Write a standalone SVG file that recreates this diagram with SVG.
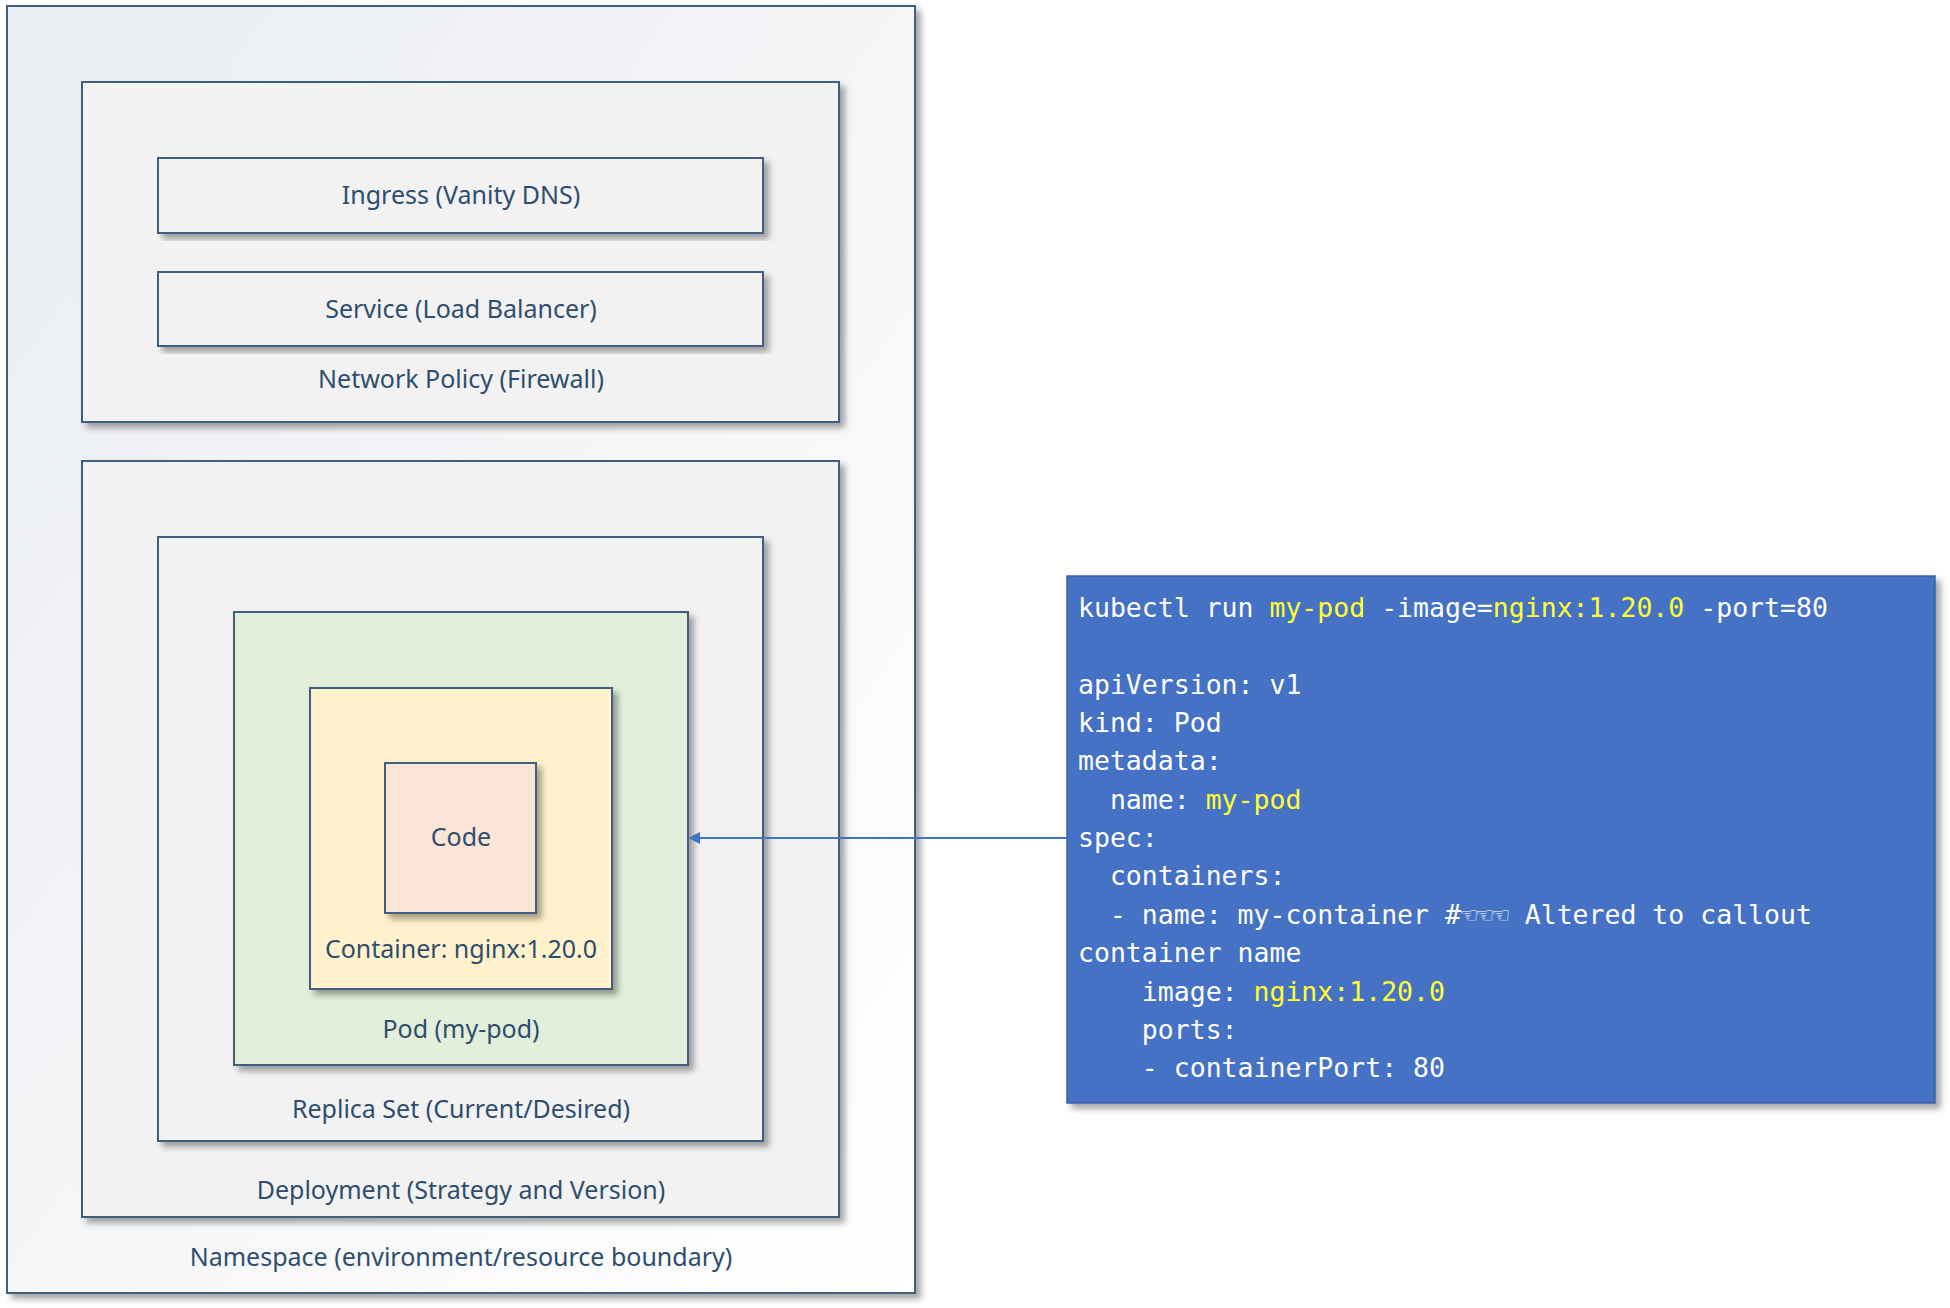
<svg xmlns="http://www.w3.org/2000/svg" width="1950" height="1308" viewBox="0 0 1950 1308">
<defs>
<linearGradient id="ns" x1="0" y1="0" x2="1" y2="1"><stop offset="0" stop-color="#e9ecf0"/><stop offset="1" stop-color="#ffffff"/></linearGradient>
<filter id="sh" x="-5%" y="-5%" width="115%" height="115%"><feDropShadow dx="5" dy="5" stdDeviation="3" flood-color="#000" flood-opacity="0.35"/></filter>
<marker id="ah" markerWidth="12" markerHeight="12" refX="10" refY="6" orient="auto" markerUnits="userSpaceOnUse"><path d="M0,0 L12,6 L0,12 Z" fill="#4472C4"/></marker>
<style>
.b{stroke:#3f5f80;stroke-width:2;filter:url(#sh)}
.g{fill:#f2f2f2}
.t{font-family:"Noto Sans","Open Sans",sans-serif;font-size:25px;fill:#2f4e6e;text-anchor:middle}
.m{font-family:"DejaVu Sans Mono","Liberation Mono",monospace;font-size:26.5px;fill:#ffffff}
.y{fill:#ffff33}
</style>
</defs>
<g id="namespace"><rect class="b" x="7" y="6" width="908" height="1287" fill="url(#ns)"/><text class="t" x="461" y="1266">Namespace (environment/resource boundary)</text></g>
<g id="networkpolicy"><rect class="b g" x="82" y="82" width="757" height="340"/><text class="t" x="461" y="388">Network Policy (Firewall)</text></g>
<g id="ingress"><rect class="b g" x="158" y="158" width="605" height="75"/><text class="t" x="461" y="204">Ingress (Vanity DNS)</text></g>
<g id="service"><rect class="b g" x="158" y="272" width="605" height="74"/><text class="t" x="461" y="318">Service (Load Balancer)</text></g>
<g id="deployment"><rect class="b g" x="82" y="461" width="757" height="756"/><text class="t" x="461" y="1199">Deployment (Strategy and Version)</text></g>
<g id="replicaset"><rect class="b g" x="158" y="537" width="605" height="604"/><text class="t" x="461" y="1118">Replica Set (Current/Desired)</text></g>
<g id="pod"><rect class="b" x="234" y="612" width="454" height="453" fill="#e2efda"/><text class="t" x="461" y="1038">Pod (my-pod)</text></g>
<g id="container"><rect class="b" x="310" y="688" width="302" height="301" fill="#fff2cc"/><text class="t" x="461" y="958">Container: nginx:1.20.0</text></g>
<g id="code"><rect class="b" x="385" y="763" width="151" height="150" fill="#fbe5d6"/><text class="t" x="461" y="846">Code</text></g>
<g id="yaml"><rect x="1067" y="576" width="868" height="527" fill="#4472C4" stroke="#3a62a8" stroke-width="1.5" filter="url(#sh)"/>
<text class="m" xml:space="preserve">
<tspan x="1078" y="617">kubectl run <tspan class="y">my-pod</tspan> -image=<tspan class="y">nginx:1.20.0</tspan> -port=80</tspan>
<tspan x="1078" y="694">apiVersion: v1</tspan>
<tspan x="1078" y="732">kind: Pod</tspan>
<tspan x="1078" y="770">metadata:</tspan>
<tspan x="1078" y="809">  name: <tspan class="y">my-pod</tspan></tspan>
<tspan x="1078" y="847">spec:</tspan>
<tspan x="1078" y="885">  containers:</tspan>
<tspan x="1078" y="924">  - name: my-container #☜☜☜ Altered to callout</tspan>
<tspan x="1078" y="962">container name</tspan>
<tspan x="1078" y="1001">    image: <tspan class="y">nginx:1.20.0</tspan></tspan>
<tspan x="1078" y="1039">    ports:</tspan>
<tspan x="1078" y="1077">    - containerPort: 80</tspan>
</text></g>
<g id="connectors"><line x1="1067" y1="838" x2="690" y2="838" stroke="#4472C4" stroke-width="2" marker-end="url(#ah)"/></g>
</svg>
